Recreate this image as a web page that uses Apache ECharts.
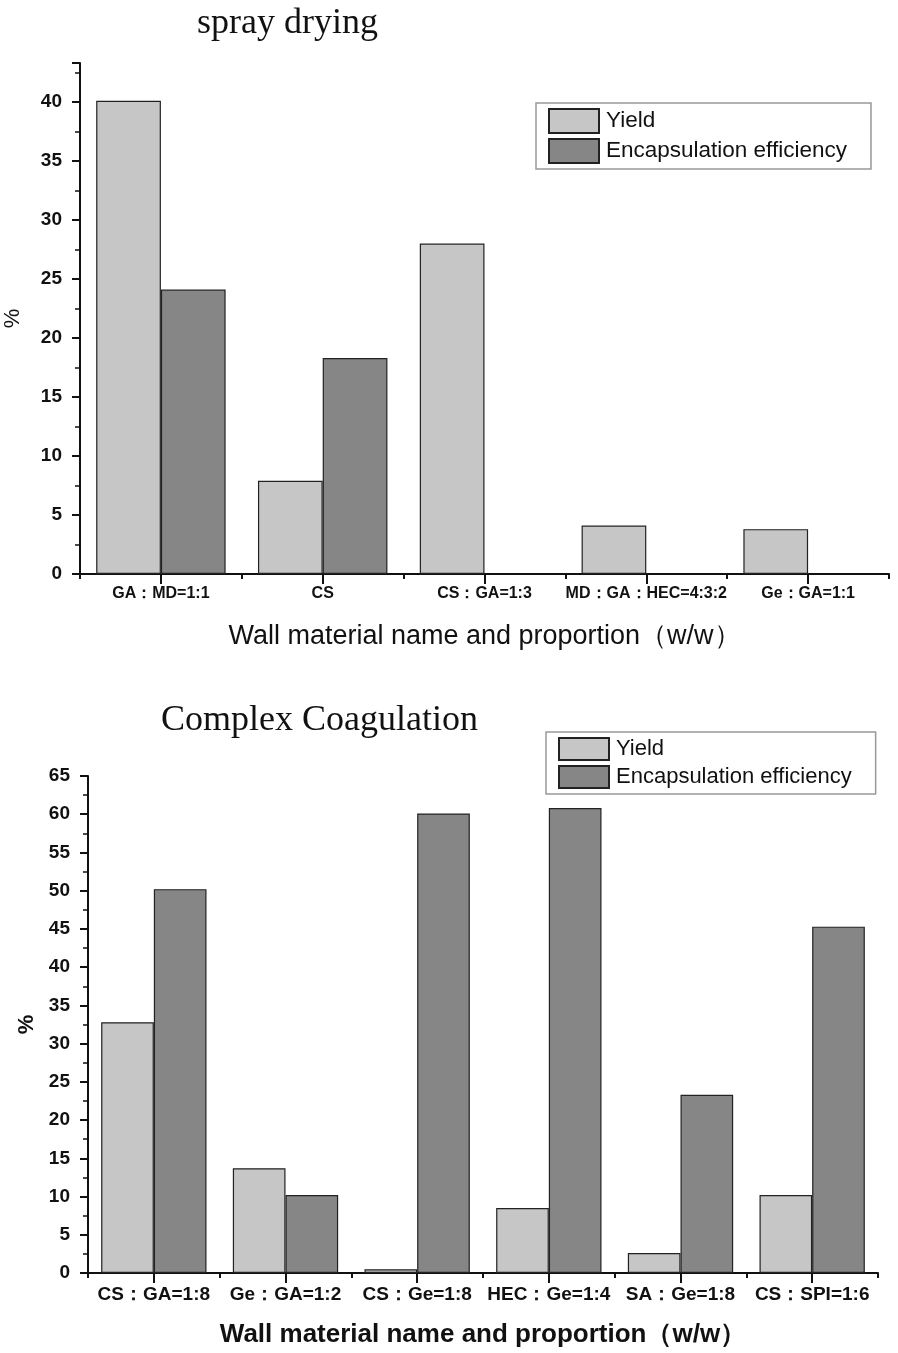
<!DOCTYPE html>
<html><head><meta charset="utf-8">
<script src="https://cdn.jsdelivr.net/npm/echarts@6/dist/echarts.min.js"></script>
<style>html,body{margin:0;padding:0;background:#fff}#c{width:898px;height:1353px}</style>
</head><body><div id="c"></div>
<script>
const seriesNames = ['Yield', 'Encapsulation efficiency'];
const sprayCategories = ['GA：MD=1:1', 'CS', 'CS：GA=1:3', 'MD：GA：HEC=4:3:2', 'Ge：GA=1:1'];
const sprayYield = [40.1, 7.9, 28.0, 4.1, 3.8];
const sprayEE = [24.1, 18.3, null, null, null];
const coagCategories = ['CS：GA=1:8', 'Ge：GA=1:2', 'CS：Ge=1:8', 'HEC：Ge=1:4', 'SA：Ge=1:8', 'CS：SPI=1:6'];
const coagYield = [32.8, 13.7, 0.5, 8.5, 2.6, 10.2];
const coagEE = [50.2, 10.2, 60.1, 60.8, 23.3, 45.3];
const titles = ['spray drying', 'Complex Coagulation'];
const xName = 'Wall material name and proportion（w/w）';
const yName = '%';

const FONT = '"Liberation Sans", Arial, sans-serif';
const SERIF = '"Liberation Serif", "Times New Roman", serif';
const C_YIELD = '#c6c6c6', C_EE = '#868686';

function yAx(grid, max, gap, bold, nameSize, margin) {
  return {
    type: 'value', gridIndex: grid, min: 0, max: max, interval: 5,
    name: yName, nameLocation: 'middle', nameGap: gap,
    nameTextStyle: {fontFamily: FONT, fontSize: nameSize, color: '#111', fontWeight: bold ? 'bold' : 'normal'},
    axisLine: {show: true, lineStyle: {color: '#111', width: 2}},
    axisTick: {show: true, length: 8, lineStyle: {color: '#111', width: 2}},
    minorTick: {show: true, splitNumber: 2, length: 5, lineStyle: {color: '#111', width: 1.5}},
    splitLine: {show: false},
    axisLabel: {fontFamily: FONT, fontSize: 19, fontWeight: 'bold', color: '#111', margin: margin,
      formatter: v => (Math.abs(v % 5) < 1e-6 ? String(v) : '')}
  };
}
function xAx(grid, cats, labelSize, nameBold, nameSize) {
  return {
    type: 'category', gridIndex: grid, data: cats,
    name: xName, nameLocation: 'middle', nameGap: 49,
    nameTextStyle: {fontFamily: FONT, fontSize: nameSize, color: '#111', fontWeight: nameBold ? 'bold' : 'normal'},
    axisLine: {show: true, lineStyle: {color: '#111', width: 2}},
    axisTick: {show: true, alignWithLabel: true, length: 10, lineStyle: {color: '#111', width: 2}},
    axisLabel: {fontFamily: FONT, fontSize: labelSize, fontWeight: 'bold', color: '#111', margin: 12, interval: 0}
  };
}
function xAxB(grid, cats) {
  return {
    type: 'category', gridIndex: grid, data: cats, position: 'bottom',
    axisLine: {show: false}, axisLabel: {show: false},
    axisTick: {show: true, length: 5, lineStyle: {color: '#111', width: 2}}
  };
}
function bar(name, data, color, xi, yi) {
  return {
    type: 'bar', name: name, data: data, xAxisIndex: xi, yAxisIndex: yi,
    barGap: '0%', barCategoryGap: '20%',
    itemStyle: {color: color, borderColor: '#222', borderWidth: 1.2}
  };
}
function legend(left, top, iw, ih, padR, fs) {
  return {
    orient: 'vertical', left: left, top: top,
    data: seriesNames.map(n => ({name: n})),
    itemWidth: iw, itemHeight: ih, itemGap: 4, icon: 'rect',
    backgroundColor: '#fff', borderColor: '#999', borderWidth: 1.5,
    padding: [5, padR, 5, 12],
    textStyle: {fontFamily: FONT, fontSize: fs, color: '#111', padding: [0, 0, 0, 2]}
  };
}

const option = {
  animation: false,
  title: [
    {text: titles[0], left: 192, top: 1, textStyle: {fontFamily: SERIF, fontSize: 36, fontWeight: 'normal', color: '#111'}},
    {text: titles[1], left: 156, top: 698, textStyle: {fontFamily: SERIF, fontSize: 36, fontWeight: 'normal', color: '#111'}}
  ],
  legend: [legend(536, 103, 50, 24, 24, 22.5), legend(546, 732, 50, 22, 24, 22)],
  grid: [
    {left: 80, right: 9, top: 63, height: 511, outerBoundsMode: 'none', containLabel: false},
    {left: 88, right: 20, top: 776, height: 497, outerBoundsMode: 'none', containLabel: false}
  ],
  xAxis: [
    xAx(0, sprayCategories, 16, false, 27),
    xAx(1, coagCategories, 19, true, 26),
    xAxB(0, sprayCategories),
    xAxB(1, coagCategories)
  ],
  yAxis: [yAx(0, 43.3, 56, false, 22, 18), yAx(1, 65, 47, true, 22, 18)],
  series: [
    bar(seriesNames[0], sprayYield, C_YIELD, 0, 0),
    bar(seriesNames[1], sprayEE, C_EE, 0, 0),
    bar(seriesNames[0], coagYield, C_YIELD, 1, 1),
    bar(seriesNames[1], coagEE, C_EE, 1, 1)
  ]
};
const chart = echarts.init(document.getElementById('c'), null, {renderer: 'canvas'});
chart.setOption(option);
</script></body></html>
